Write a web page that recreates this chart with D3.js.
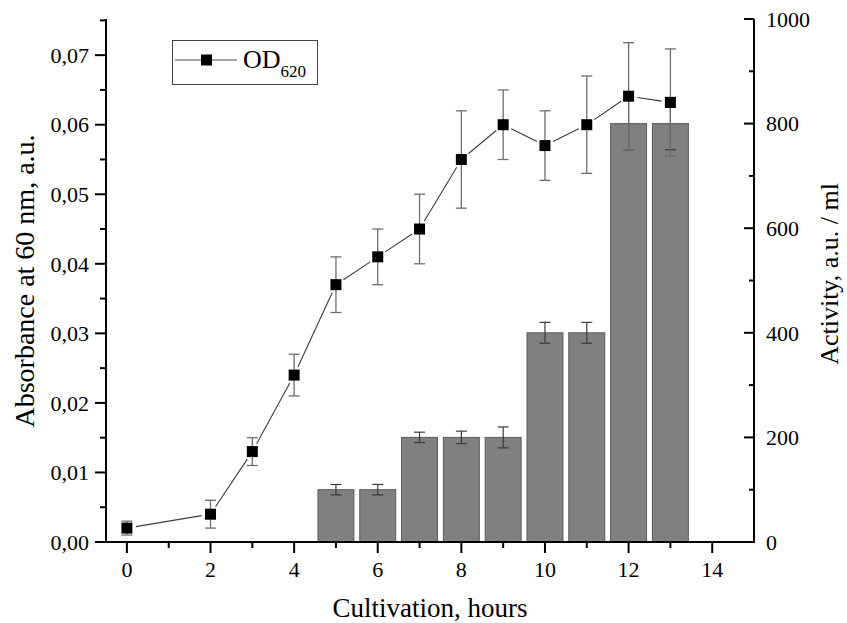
<!DOCTYPE html>
<html><head><meta charset="utf-8">
<script src="https://cdn.jsdelivr.net/npm/d3@7"></script>
<style>
html,body{margin:0;padding:0;background:#fff;}
text{font-family:"Liberation Serif","Times New Roman",serif;fill:#000;}
</style></head>
<body><svg id="chart" width="847" height="623"></svg>
<script>
// Data
const odHours = [0, 2, 3, 4, 5, 6, 7, 8, 9, 10, 11, 12, 13];
const odValues = [0.002, 0.004, 0.013, 0.024, 0.037, 0.041, 0.045, 0.055, 0.060, 0.057, 0.060, 0.0641, 0.0632];
const odErrors = [0.001, 0.002, 0.002, 0.003, 0.004, 0.004, 0.005, 0.007, 0.005, 0.005, 0.007, 0.0077, 0.0077];
const actHours = [5, 6, 7, 8, 9, 10, 11, 12, 13];
const actValues = [100, 100, 200, 200, 200, 400, 400, 800, 800];
const actErrors = [10, 10, 10, 12, 20, 20, 20, 50, 50];
const xTicksMajor = [0, 2, 4, 6, 8, 10, 12, 14];
const xTicksMinor = [1, 3, 5, 7, 9, 11, 13];
const yLeftTicks = [0, 0.01, 0.02, 0.03, 0.04, 0.05, 0.06, 0.07];
const yLeftMinor = [0.005, 0.015, 0.025, 0.035, 0.045, 0.055, 0.065, 0.075];
const yRightTicks = [0, 200, 400, 600, 800, 1000];
const yRightMinor = [100, 300, 500, 700, 900];
const xTitle = "Cultivation, hours";
const yLeftTitle = "Absorbance at 60 nm, a.u.";
const yRightTitle = "Activity, a.u. / ml";
const legendLabel = "OD";
const legendSub = "620";

const svg = d3.select("#chart");
const L = 106, R = 754, T = 19, B = 542;
const x = d3.scaleLinear().domain([-0.5, 15]).range([L, R]);
const yL = d3.scaleLinear().domain([0, 0.0752]).range([B, T]);
const yR = d3.scaleLinear().domain([0, 1000]).range([B, T]);
const fmtL = v => d3.format(".2f")(v).replace(".", ",");
const barW = x(0.86) - x(0);

// Bars
const bars = actHours.map((h, i) => ({h, v: actValues[i], e: actErrors[i]}));
svg.append("g").selectAll("rect").data(bars).join("rect")
  .attr("x", d => x(d.h) - barW / 2)
  .attr("y", d => yR(d.v))
  .attr("width", barW)
  .attr("height", d => yR(0) - yR(d.v))
  .attr("fill", "#808080")
  .attr("stroke", "#5a5a5a")
  .attr("stroke-width", 1);

// Bar error bars
const be = svg.append("g").attr("stroke", "#3a3a3a").attr("stroke-width", 1.2);
bars.forEach(d => {
  be.append("line").attr("x1", x(d.h)).attr("x2", x(d.h)).attr("y1", yR(d.v + d.e)).attr("y2", yR(d.v - d.e));
  [d.v + d.e, d.v - d.e].forEach(v => be.append("line").attr("x1", x(d.h) - 5.5).attr("x2", x(d.h) + 5.5).attr("y1", yR(v)).attr("y2", yR(v)));
});

// OD error bars
const pts = odHours.map((h, i) => ({h, v: odValues[i], e: odErrors[i]}));
const pe = svg.append("g").attr("stroke", "#6e6e6e").attr("stroke-width", 1.3);
pts.forEach(d => {
  pe.append("line").attr("x1", x(d.h)).attr("x2", x(d.h)).attr("y1", yL(d.v + d.e)).attr("y2", yL(d.v - d.e));
  [d.v + d.e, d.v - d.e].forEach(v => pe.append("line").attr("x1", x(d.h) - 5.5).attr("x2", x(d.h) + 5.5).attr("y1", yL(v)).attr("y2", yL(v)));
});

// OD line (segments with gaps near markers)
const gap = 9;
const lg = svg.append("g").attr("stroke", "#3c3c3c").attr("stroke-width", 1.1);
for (let i = 0; i < pts.length - 1; i++) {
  const x1 = x(pts[i].h), y1 = yL(pts[i].v), x2 = x(pts[i + 1].h), y2 = yL(pts[i + 1].v);
  const dx = x2 - x1, dy = y2 - y1, len = Math.hypot(dx, dy);
  if (len <= 2 * gap) continue;
  const ux = dx / len, uy = dy / len;
  lg.append("line").attr("x1", x1 + ux * gap).attr("y1", y1 + uy * gap).attr("x2", x2 - ux * gap).attr("y2", y2 - uy * gap);
}

// Markers
const ms = 11;
svg.append("g").selectAll("rect").data(pts).join("rect")
  .attr("x", d => x(d.h) - ms / 2).attr("y", d => yL(d.v) - ms / 2)
  .attr("width", ms).attr("height", ms).attr("fill", "#000");

// Axes
const ax = svg.append("g").attr("stroke", "#000");
ax.append("line").attr("x1", L).attr("x2", L).attr("y1", T).attr("y2", B + 1).attr("stroke-width", 2);
ax.append("line").attr("x1", R).attr("x2", R).attr("y1", T).attr("y2", B + 1).attr("stroke-width", 2);
ax.append("line").attr("x1", L - 1).attr("x2", R + 1).attr("y1", B).attr("y2", B).attr("stroke-width", 2);
// left ticks (outward)
yLeftTicks.forEach(v => ax.append("line").attr("x1", L - 11).attr("x2", L).attr("y1", yL(v)).attr("y2", yL(v)).attr("stroke-width", 2));
yLeftMinor.forEach(v => ax.append("line").attr("x1", L - 6).attr("x2", L).attr("y1", yL(v)).attr("y2", yL(v)).attr("stroke-width", 2));
// right ticks (inward)
yRightTicks.forEach(v => ax.append("line").attr("x1", R - 10).attr("x2", R).attr("y1", yR(v)).attr("y2", yR(v)).attr("stroke-width", 2));
yRightMinor.forEach(v => ax.append("line").attr("x1", R - 5).attr("x2", R).attr("y1", yR(v)).attr("y2", yR(v)).attr("stroke-width", 2));
// bottom ticks (outward)
xTicksMajor.forEach(v => ax.append("line").attr("x1", x(v)).attr("x2", x(v)).attr("y1", B).attr("y2", B + 11).attr("stroke-width", 2));
xTicksMinor.forEach(v => ax.append("line").attr("x1", x(v)).attr("x2", x(v)).attr("y1", B).attr("y2", B + 6).attr("stroke-width", 2));

// Tick labels
const tl = svg.append("g").style("font-size", "22px");
yLeftTicks.forEach(v => tl.append("text").attr("x", L - 17).attr("y", yL(v)).attr("dy", "0.35em").attr("text-anchor", "end").text(fmtL(v)));
yRightTicks.forEach(v => tl.append("text").attr("x", R + 12).attr("y", yR(v)).attr("dy", "0.35em").attr("text-anchor", "start").text(v));
xTicksMajor.forEach(v => tl.append("text").attr("x", x(v)).attr("y", 577).attr("text-anchor", "middle").text(v));

// Axis titles
svg.append("text").attr("x", (L + R) / 2).attr("y", 617).attr("text-anchor", "middle").style("font-size", "27px").text(xTitle);
svg.append("text").attr("transform", `translate(34,281) rotate(-90)`).attr("text-anchor", "middle").style("font-size", "28px").text(yLeftTitle);
svg.append("text").attr("transform", `translate(838,274) rotate(-90)`).attr("text-anchor", "middle").style("font-size", "26px").text(yRightTitle);

// Legend
const lgd = svg.append("g");
lgd.append("rect").attr("x", 172.5).attr("y", 40.5).attr("width", 145).attr("height", 44).attr("fill", "#fff").attr("stroke", "#444").attr("stroke-width", 1);
lgd.append("line").attr("x1", 175).attr("x2", 237).attr("y1", 60).attr("y2", 60).attr("stroke", "#888").attr("stroke-width", 1.3);
lgd.append("rect").attr("x", 206.5 - ms / 2).attr("y", 60 - ms / 2).attr("width", ms).attr("height", ms).attr("fill", "#000");
const lt = lgd.append("text").attr("x", 243).attr("y", 68).style("font-size", "26px");
lt.append("tspan").text(legendLabel);
lt.append("tspan").attr("dy", 9).style("font-size", "17px").text(legendSub);
</script></body></html>
